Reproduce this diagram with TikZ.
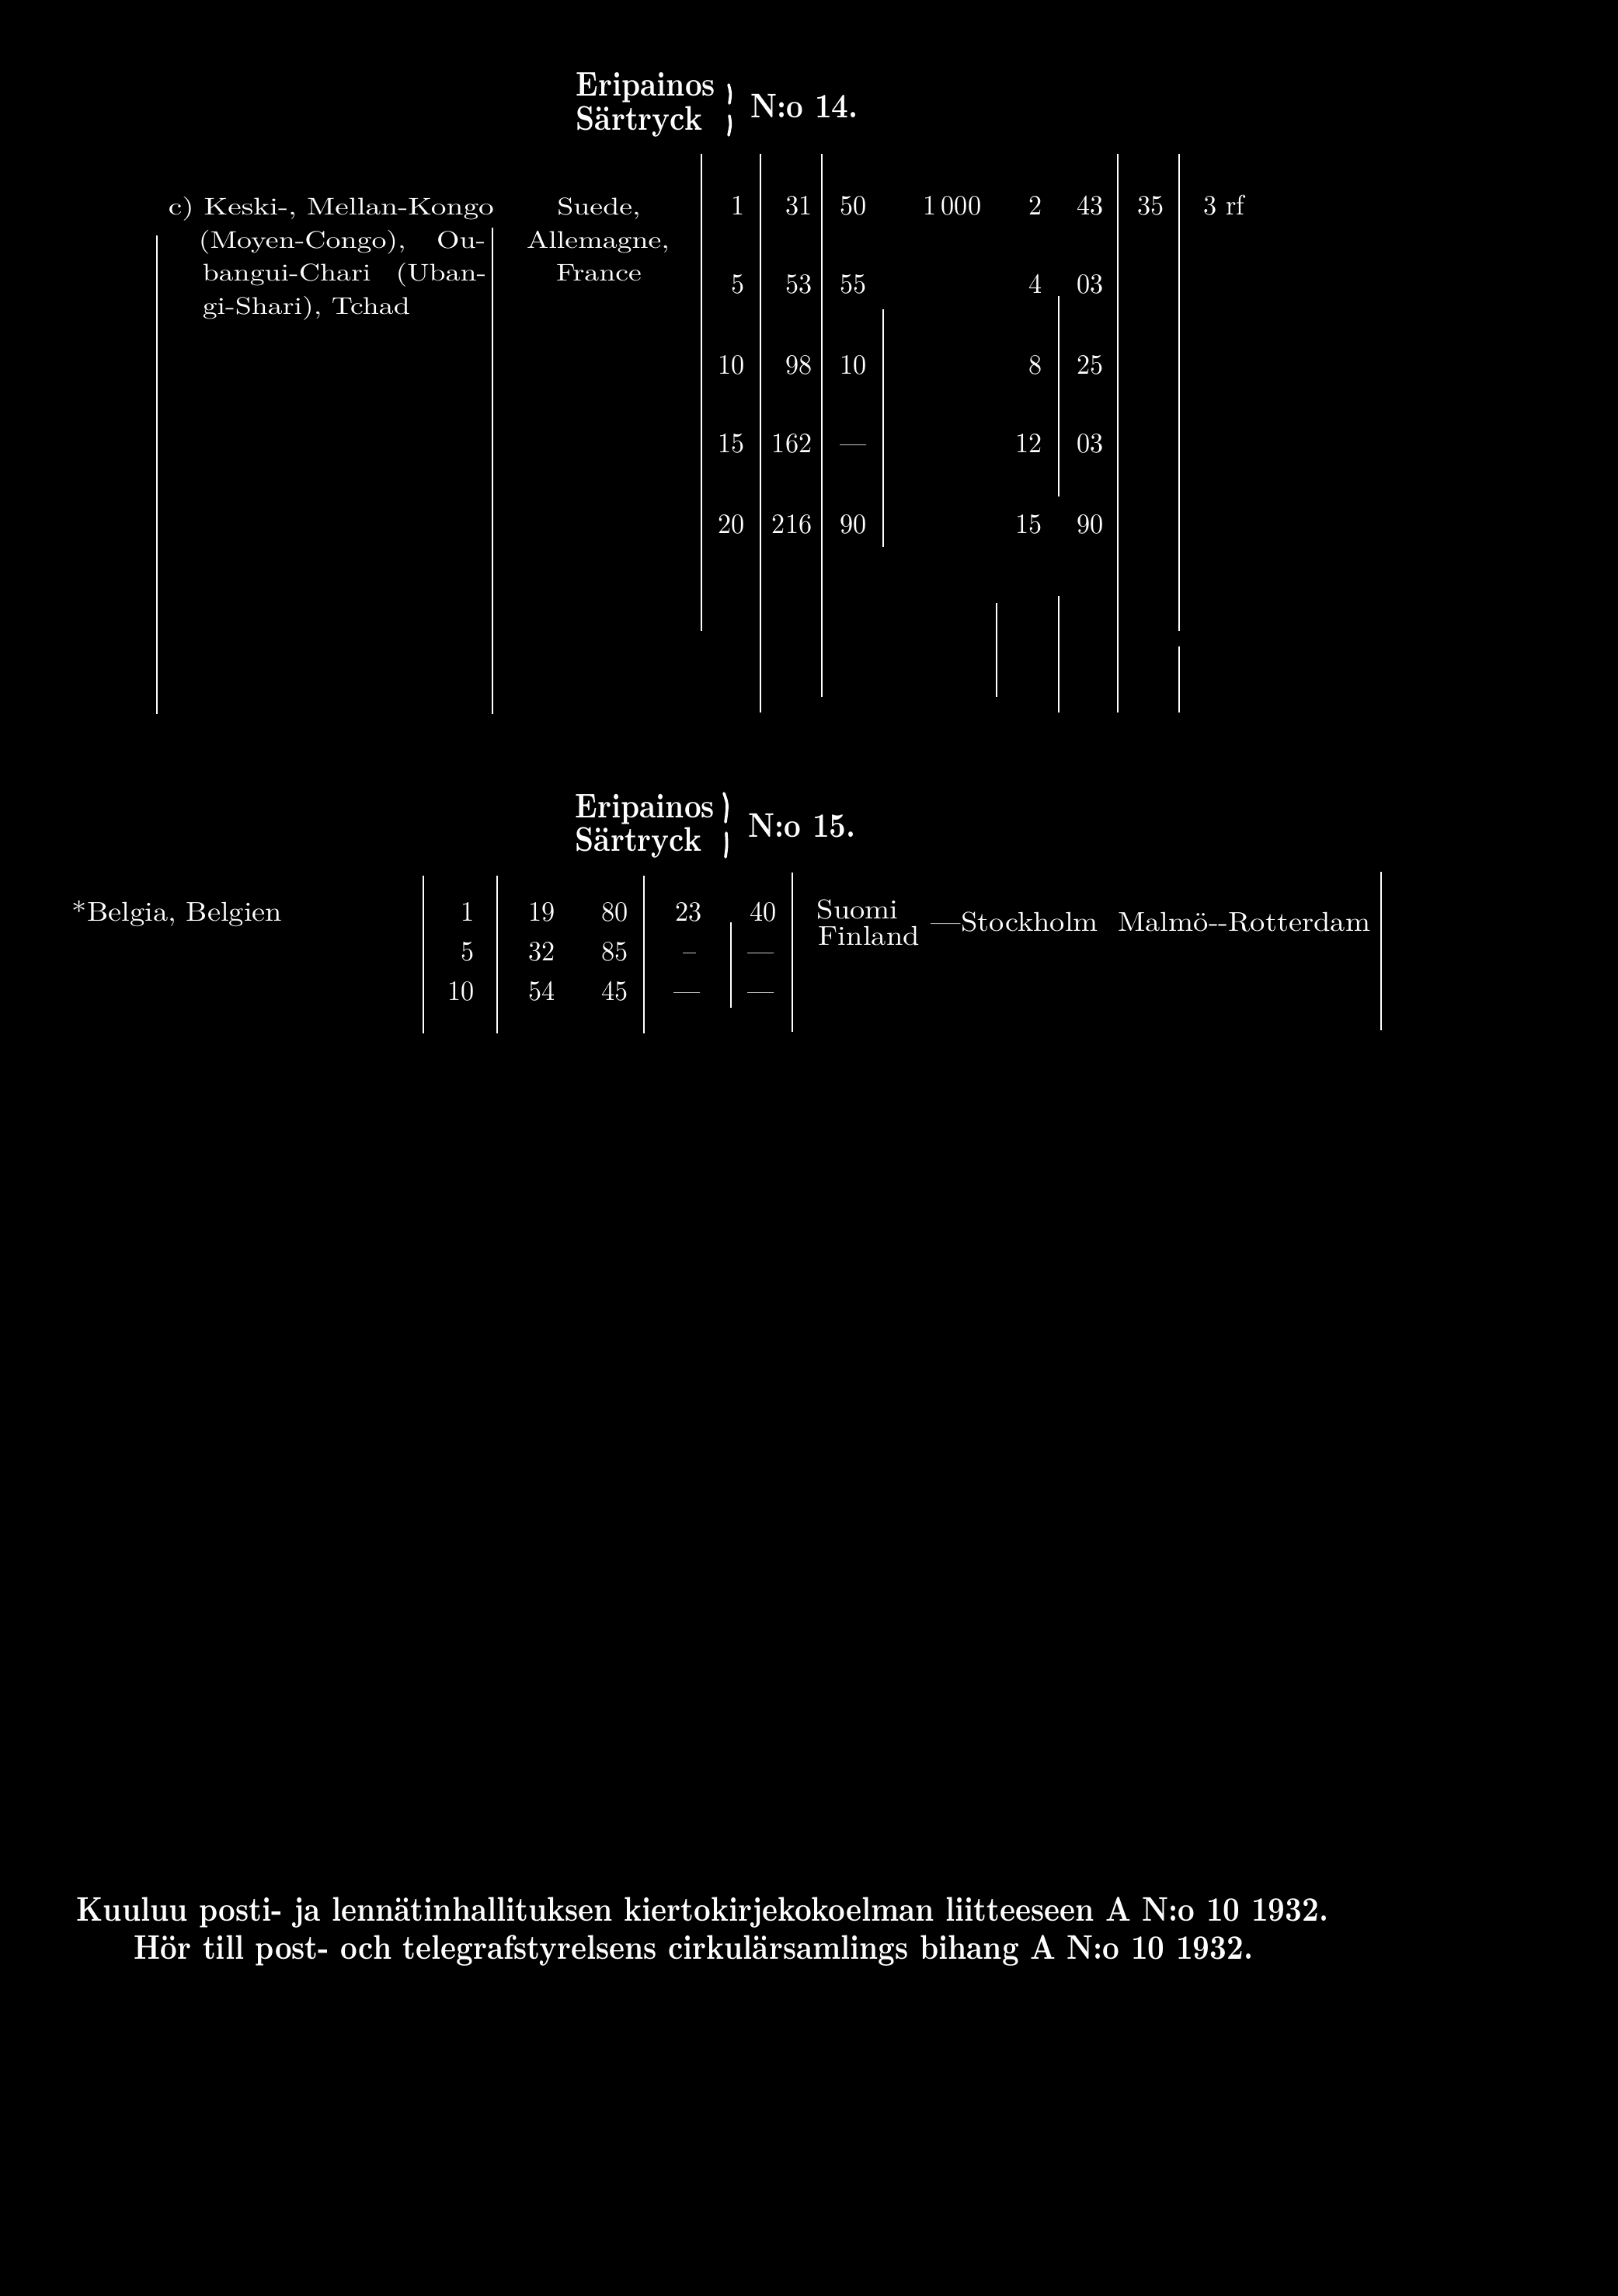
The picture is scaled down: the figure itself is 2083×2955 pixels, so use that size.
\documentclass[tikz,border=0pt]{standalone}
\usepackage{fontspec}
\setmainfont{lmroman10}[Extension=.otf, UprightFont=*-regular, BoldFont=*-bold]
\newfontfamily\plainf{lmroman10}[Extension=.otf, UprightFont=*-regular]
\newfontfamily\numf{lmroman10}[Extension=.otf, UprightFont=*-regular, FakeStretch=0.95]
\newfontfamily\hdrf{lmroman10}[Extension=.otf, UprightFont=*-bold, FakeStretch=0.86]
\newcommand{\wideA}[1]{\scalebox{1.22}[1]{#1}}
\newcommand{\wideAA}[1]{\scalebox{1.27}[1]{#1}}
\newcommand{\wideB}[1]{\scalebox{1.1}[1]{#1}}
\tikzset{
  txtA/.style={text=white, inner sep=0pt, font=\plainf\fontsize{7.75}{9}\selectfont},
  txtB/.style={text=white, inner sep=0pt, font=\plainf\fontsize{8.75}{10}\selectfont},
  num/.style={text=white, inner sep=0pt, font=\numf\fontsize{9}{10}\selectfont},
  hdr/.style={text=white, inner sep=0pt, font=\hdrf\fontsize{11}{12}\selectfont},
  rule/.style={draw=white, line width=0.55pt},
  bracepart/.style={draw=white, line width=0.9pt, line cap=round}
}
\begin{document}
\begin{tikzpicture}[x=0.25pt, y=-0.25pt]
\fill[black] (0,0) rectangle (2083,2955);
\useasboundingbox (0,0) rectangle (2083,2955);

% ---------- header 1 ----------
\node[hdr, anchor=base west] (h1a) at (741,123) {Eripainos};
\node[hdr, anchor=base west] (h1b) at (741,167) {Särtryck};
\draw[bracepart] (938,109) .. controls (941,120) .. (939,133);
\draw[bracepart] (939,149) .. controls (941,160) .. (938,174);
\node[hdr, anchor=base west] (h1n) at (966,151) {N:o 14.};

% ---------- table 1 text ----------
\node[txtA, anchor=base west] (k1) at (216,276) {\wideAA{c) Keski-, Mellan-Kongo}};
\node[txtA, anchor=base west] (k2a) at (255,319) {\wideA{(Moyen-Congo),}};
\node[txtA, anchor=base east] (k2b) at (626,319) {\wideA{Ou-}};
\node[txtA, anchor=base west] (k3a) at (260,361) {\wideA{bangui-Chari}};
\node[txtA, anchor=base east] (k3b) at (627,361) {\wideA{(Uban-}};
\node[txtA, anchor=base west] (k4) at (260,404) {\wideA{gi-Shari), Tchad}};

\node[txtA, anchor=base] (s1) at (771,276) {\wideA{Suede,}};
\node[txtA, anchor=base] (s2) at (770,319) {\wideA{Allemagne,}};
\node[txtA, anchor=base] (s3) at (771,361) {\wideA{France}};

% numbers
\foreach \v/\y [count=\i] in {1/276,5/377,10/481,15/582,20/686}
  \node[num, anchor=base east] (ca\i) at (959,\y) {\v};
\foreach \v/\y [count=\i] in {31/276,53/377,98/481,162/582,216/686}
  \node[num, anchor=base east] (cb\i) at (1046,\y) {\v};
\foreach \v/\y [count=\i] in {50/276,55/377,10/481,—/582,90/686}
  \node[num, anchor=base east] (cc\i) at (1116,\y) {\v};
\node[num, anchor=base east] (cth) at (1264,276) {1\,000};
\foreach \v/\y [count=\i] in {2/276,4/377,8/481,12/582,15/686}
  \node[num, anchor=base east] (cd\i) at (1342,\y) {\v};
\foreach \v/\y [count=\i] in {43/276,03/377,25/481,03/582,90/686}
  \node[num, anchor=base east] (ce\i) at (1421,\y) {\v};
\node[num, anchor=base east] (cf) at (1499,276) {35};
\node[num, anchor=base west] (cg) at (1549,276) {3 rf};

% rules table 1
\draw[rule] (202,303) -- (202,919);
\draw[rule] (634,293) -- (634,919);
\draw[rule] (903,198) -- (903,812);
\draw[rule] (979,198) -- (979,917);
\draw[rule] (1058,198) -- (1058,897);
\draw[rule] (1137,398) -- (1137,704);
\draw[rule] (1283,776) -- (1283,897);
\draw[rule] (1363,381) -- (1363,639);
\draw[rule] (1363,767) -- (1363,917);
\draw[rule] (1439,198) -- (1439,917);
\draw[rule] (1518,198) -- (1518,812);
\draw[rule] (1518,832) -- (1518,917);

% ---------- header 2 ----------
\node[hdr, anchor=base west] (h2a) at (740,1052) {Eripainos};
\node[hdr, anchor=base west] (h2b) at (740,1095) {Särtryck};
\draw[bracepart] (932,1021) .. controls (937,1035) .. (934,1058);
\draw[bracepart] (935,1072) .. controls (936,1088) .. (934,1103);
\node[hdr, anchor=base west] (h2n) at (963,1077) {N:o 15.};

% ---------- table 2 ----------
\node[txtB, anchor=base west] (bel) at (92,1185) {\wideB{*Belgia, Belgien}};
\foreach \v/\y [count=\i] in {1/1185,5/1236,10/1287}
  \node[num, anchor=base east] (da\i) at (611,\y) {\v};
\foreach \v/\y [count=\i] in {19/1185,32/1236,54/1287}
  \node[num, anchor=base east] (db\i) at (715,\y) {\v};
\foreach \v/\y [count=\i] in {80/1185,85/1236,45/1287}
  \node[num, anchor=base east] (dc\i) at (809,\y) {\v};
\node[num, anchor=base east] (dd1) at (904,1185) {23};
\node[num, anchor=base] (dd2) at (888,1236) {–};
\node[num, anchor=base] (dd3) at (885,1287) {—};
\node[num, anchor=base east] (de1) at (1000,1185) {40};
\node[num, anchor=base] (de2) at (980,1236) {—};
\node[num, anchor=base] (de3) at (980,1287) {—};

\node[txtB, anchor=base west] (suo) at (1051,1182) {\wideB{Suomi}};
\node[txtB, anchor=base west] (fin) at (1053,1216) {\wideB{Finland}};
\node[txtB, anchor=base west] (route) at (1198,1198) {\wideB{—Stockholm\ \ Malmö-{}-Rotterdam}};

\draw[rule] (545,1127) -- (545,1330);
\draw[rule] (640,1127) -- (640,1330);
\draw[rule] (829,1127) -- (829,1330);
\draw[rule] (941,1187) -- (941,1297);
\draw[rule] (1020,1123) -- (1020,1328);
\draw[rule] (1778,1122) -- (1778,1326);

% ---------- footer ----------
\node[hdr, anchor=base west] (f1) at (98,2472) {Kuuluu posti- ja lennätinhallituksen kiertokirjekokoelman liitteeseen A N:o 10 1932.};
\node[hdr, anchor=base west] (f2) at (172,2521) {Hör till post- och telegrafstyrelsens cirkulärsamlings bihang A N:o 10 1932.};
\end{tikzpicture}
\end{document}
